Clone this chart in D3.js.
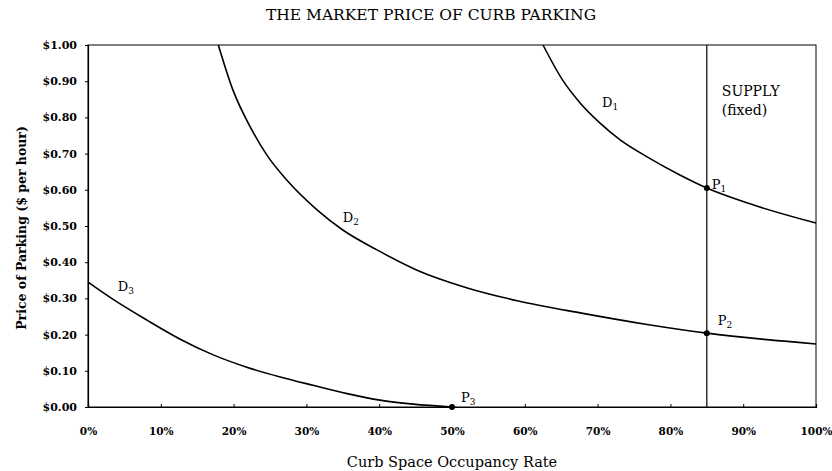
<!DOCTYPE html>
<html>
  <head>
    <meta charset="utf-8">
    <title>The Market Price of Curb Parking</title>
    <script type="text/javascript" src="https://cdn.jsdelivr.net/npm/d3@7"></script>
    <style type='text/css'>
      body { margin: 0; background: white; }
      text { font-family: 'DejaVu Serif', 'Liberation Serif', serif; fill: black; }
    </style>
  </head>
  <body>
    <script type="text/javascript">
      var w = 832;
      var h = 471;
      var margin = {top: 45, right: 16, bottom: 64, left: 88};

      // tick labels
      var xTicks = [0, 0.1, 0.2, 0.3, 0.4, 0.5, 0.6, 0.7, 0.8, 0.9, 1.0];
      var yTicks = [0, 0.1, 0.2, 0.3, 0.4, 0.5, 0.6, 0.7, 0.8, 0.9, 1.0];

      // demand curves: [occupancy, price]
      var d1 = [[0.625, 1.00], [0.652, 0.903], [0.676, 0.840], [0.703, 0.785], [0.731, 0.738],
                [0.768, 0.691], [0.813, 0.641], [0.85, 0.605], [0.905, 0.564], [1.0, 0.508]];
      var d2 = [[0.179, 1.00], [0.199, 0.876], [0.223, 0.773], [0.246, 0.695], [0.273, 0.627],
                [0.315, 0.544], [0.350, 0.489], [0.397, 0.434], [0.452, 0.378], [0.521, 0.329],
                [0.591, 0.293], [0.676, 0.260], [0.768, 0.228], [0.85, 0.204], [1.0, 0.174]];
      var d3c = [[0, 0.345], [0.034, 0.298], [0.081, 0.240], [0.126, 0.188], [0.172, 0.144],
                 [0.218, 0.110], [0.264, 0.083], [0.309, 0.060], [0.356, 0.037], [0.401, 0.019],
                 [0.447, 0.008], [0.50, 0.0]];

      // fixed supply and the equilibrium points
      var supply = 0.85;
      var points = [
        {name: 'P', sub: '1', x: 0.85, y: 0.605, dx: 5, dy: 1},
        {name: 'P', sub: '2', x: 0.85, y: 0.204, dx: 11, dy: -8},
        {name: 'P', sub: '3', x: 0.50, y: 0.0, dx: 9, dy: -5}
      ];
      var curveLabels = [
        {name: 'D', sub: '1', x: 0.706, y: 0.83},
        {name: 'D', sub: '2', x: 0.350, y: 0.51},
        {name: 'D', sub: '3', x: 0.041, y: 0.32}
      ];

      var svg = d3.select('body')
                  .append('svg')
                  .attr('width', w)
                  .attr('height', h);

      var x = d3.scaleLinear()
                .domain([0, 1])
                .range([margin.left, w - margin.right]);
      var y = d3.scaleLinear()
                .domain([0, 1])
                .range([h - margin.bottom, margin.top]);

      // frame
      svg.append('rect')
        .attr('x', x(0))
        .attr('y', y(1))
        .attr('width', x(1) - x(0))
        .attr('height', y(0) - y(1))
        .attr('fill', 'none')
        .attr('stroke', 'black')
        .attr('stroke-width', 1);

      var xAxis = svg.append('g')
        .attr('transform', 'translate(0,' + y(0) + ')')
        .call(d3.axisBottom(x)
          .tickValues(xTicks)
          .tickSize(-3)
          .tickPadding(21)
          .tickFormat(d3.format('.0%')));

      var yAxis = svg.append('g')
        .attr('transform', 'translate(' + x(0) + ',0)')
        .call(d3.axisLeft(y)
          .tickValues(yTicks)
          .tickSize(3)
          .tickPadding(8)
          .tickFormat(function(d) { return '$' + d.toFixed(2); }));

      xAxis.selectAll('text').attr('font-size', '10.5px');
      yAxis.selectAll('text').attr('font-size', '11px');
      [xAxis, yAxis].forEach(function(g) {
        g.selectAll('text')
          .attr('font-family', "'DejaVu Serif', serif")
          .attr('font-weight', 'bold');
        g.select('.domain').attr('stroke-width', 1.2);
      });

      // supply line
      svg.append('line')
        .attr('x1', x(supply))
        .attr('x2', x(supply))
        .attr('y1', y(1))
        .attr('y2', y(0))
        .attr('stroke', 'black')
        .attr('stroke-width', 1.2);

      var line = d3.line()
        .x(function(d) { return x(d[0]); })
        .y(function(d) { return y(d[1]); })
        .curve(d3.curveMonotoneX);

      svg.selectAll('path.demand')
        .data([d1, d2, d3c])
        .enter()
        .append('path')
        .attr('class', 'demand')
        .attr('d', line)
        .attr('fill', 'none')
        .attr('stroke', 'black')
        .attr('stroke-width', 1.6);

      svg.selectAll('circle')
        .data(points)
        .enter()
        .append('circle')
        .attr('cx', function(d) { return x(d.x); })
        .attr('cy', function(d) { return y(d.y); })
        .attr('r', 3)
        .attr('fill', 'black');

      function subLabel(sel) {
        sel.append('tspan').text(function(d) { return d.name; });
        sel.append('tspan')
          .attr('font-size', '9px')
          .attr('dy', 3)
          .text(function(d) { return d.sub; });
      }

      svg.selectAll('text.pt')
        .data(points)
        .enter()
        .append('text')
        .attr('class', 'pt')
        .attr('x', function(d) { return x(d.x) + d.dx; })
        .attr('y', function(d) { return y(d.y) + d.dy; })
        .attr('font-size', '13px')
        .call(subLabel);

      svg.selectAll('text.dl')
        .data(curveLabels)
        .enter()
        .append('text')
        .attr('class', 'dl')
        .attr('x', function(d) { return x(d.x); })
        .attr('y', function(d) { return y(d.y); })
        .attr('font-size', '13px')
        .call(subLabel);

      svg.append('text')
        .attr('x', x(supply) + 15)
        .attr('y', 96)
        .attr('font-size', '14px')
        .text('SUPPLY');
      svg.append('text')
        .attr('x', x(supply) + 15)
        .attr('y', 115)
        .attr('font-size', '14px')
        .text('(fixed)');

      // titles
      svg.append('text')
        .attr('x', 431)
        .attr('y', 20)
        .attr('text-anchor', 'middle')
        .attr('font-size', '15.5px')
        .text('THE MARKET PRICE OF CURB PARKING');

      svg.append('text')
        .attr('x', 452)
        .attr('y', 467)
        .attr('text-anchor', 'middle')
        .attr('font-size', '14.5px')
        .text('Curb Space Occupancy Rate');

      svg.append('text')
        .attr('transform', 'translate(26,228) rotate(-90)')
        .attr('text-anchor', 'middle')
        .attr('font-size', '12.5px')
        .attr('font-weight', 'bold')
        .text('Price of Parking ($ per hour)');
    </script>
  </body>
</html>
